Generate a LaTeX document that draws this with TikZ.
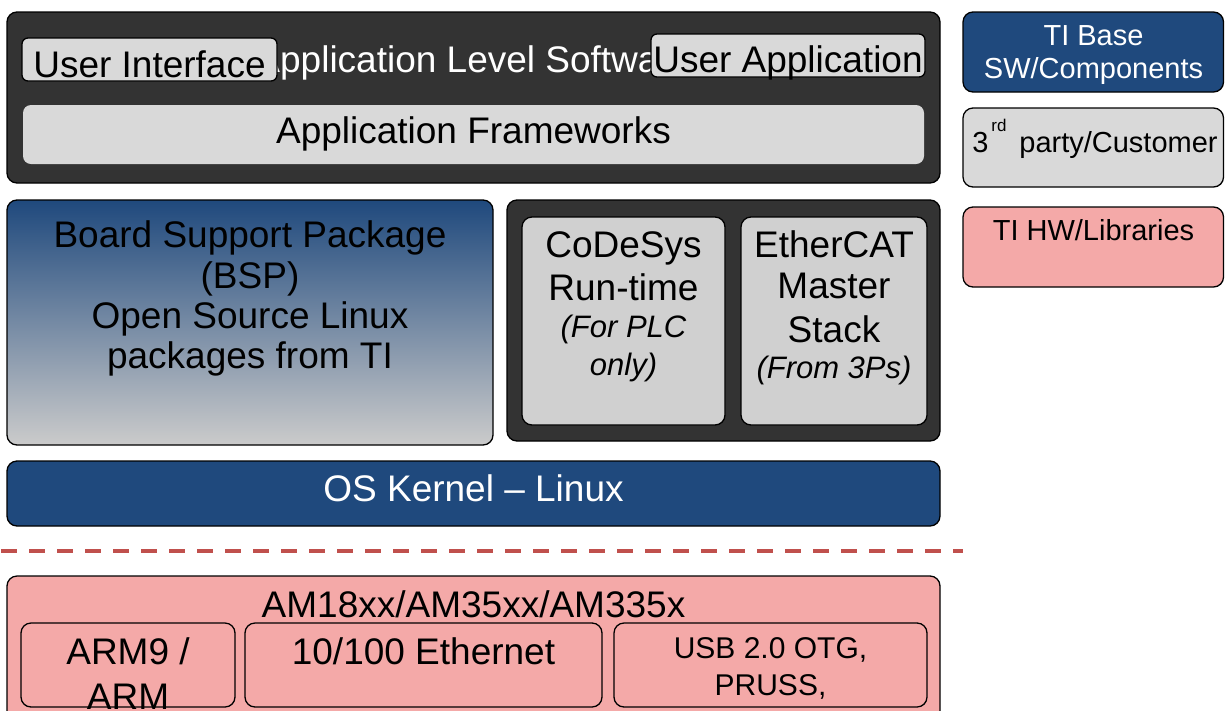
\documentclass[tikz,border=0pt]{standalone}
\usepackage{fontspec}
\setmainfont{Liberation Sans}
\definecolor{tiblue}{HTML}{1F497D}
\definecolor{darkbox}{HTML}{333333}
\definecolor{lightbox}{HTML}{D9D9D9}
\definecolor{midbox}{HTML}{D0D0D0}
\definecolor{pinkbox}{HTML}{F4A9A8}
\definecolor{dashred}{HTML}{C0504D}
\definecolor{bspmid}{HTML}{8B95A9}
\definecolor{bspbot}{HTML}{CBCBCB}
\tikzset{
  box/.style={draw=black, line width=1.3pt, rounded corners=10pt, inner sep=0pt, outer sep=0pt, anchor=north west},
  smallbox/.style={box, rounded corners=6pt},
  big/.style={font=\fontsize{37}{41}\selectfont},
  small/.style={font=\fontsize{29}{33}\selectfont},
  ital/.style={font=\fontsize{31}{35}\selectfont\itshape},
  txt/.style={anchor=base, inner sep=0pt, outer sep=0pt},
}
\begin{document}
\begin{tikzpicture}[x=1pt,y=-1pt]
\useasboundingbox (0,0) rectangle (1225,710);
\clip (0,0) rectangle (1225,710);
% application level
\node[box, fill=darkbox, minimum width=933pt, minimum height=171pt] (app) at (7,12) {};
\node[txt, big, text=white] (apptitle) at (473.5,72) {Application Level Software};
\node[smallbox, fill=lightbox, minimum width=255pt, minimum height=43pt] (ui) at (22,38) {};
\node[txt, big] (uit) at (149.5,77) {User Interface};
\node[smallbox, fill=lightbox, minimum width=274pt, minimum height=43pt] (ua) at (651,34) {};
\node[txt, big] (uat) at (788,72) {User Application};
\node[box, draw=none, rounded corners=8pt, fill=lightbox, minimum width=901pt, minimum height=59pt] (af) at (23,105) {};
\node[txt, big] (aft) at (473.5,143) {Application Frameworks};
% legend
\node[box, fill=tiblue, minimum width=260.5pt, minimum height=80pt] (lg1) at (963,12) {};
\node[txt, small, text=white] (lg1a) at (1093.5,45) {TI Base};
\node[txt, small, text=white] (lg1b) at (1093.5,78) {SW/Components};
\node[box, fill=lightbox, minimum width=260.5pt, minimum height=79pt] (lg2) at (963,108) {};
\node[txt, small] (lg2t) at (1095,152) {3\raisebox{21pt}{\fontsize{17}{17}\selectfont\,rd}\, party/Customer};
\node[box, fill=pinkbox, minimum width=260.5pt, minimum height=80pt] (lg3) at (963,207) {};
\node[txt, small] (lg3t) at (1093.5,240) {TI HW/Libraries};
% BSP
\node[box, top color=tiblue, middle color=bspmid, bottom color=bspbot, minimum width=486pt, minimum height=245pt] (bsp) at (7,200) {};
\node[txt, big] (bsp1) at (250,247) {Board Support Package};
\node[txt, big] (bsp2) at (250,288) {(BSP)};
\node[txt, big] (bsp3) at (250,328) {Open Source Linux};
\node[txt, big] (bsp4) at (250,368) {packages from TI};
% runtime group
\node[box, fill=darkbox, minimum width=433pt, minimum height=241pt] (grp) at (507,200) {};
\node[box, fill=midbox, minimum width=203pt, minimum height=208pt] (cds) at (522,217) {};
\node[txt, big] (cds1) at (623.5,257) {CoDeSys};
\node[txt, big] (cds2) at (623.5,300) {Run-time};
\node[txt, ital] (cds3) at (623.5,337) {(For PLC};
\node[txt, ital] (cds4) at (623.5,375) {only)};
\node[box, fill=midbox, minimum width=186pt, minimum height=208pt] (ecat) at (741,217) {};
\node[txt, big] (ecat1) at (834,257) {EtherCAT};
\node[txt, big] (ecat2) at (834,298) {Master};
\node[txt, big] (ecat3) at (834,342) {Stack};
\node[txt, ital] (ecat4) at (834,378) {(From 3Ps)};
% OS kernel
\node[box, fill=tiblue, minimum width=933pt, minimum height=65pt] (os) at (7,461) {};
\node[txt, big, text=white] (ost) at (473.5,501) {OS Kernel -- Linux};
% dashed separator
\coordinate (dl) at (1,551);
\coordinate (dr) at (963,551);
\draw[dashred, line width=4pt, dash pattern=on 16pt off 12pt] (dl) -- (dr);
% hardware
\node[box, fill=pinkbox, minimum width=933pt, minimum height=184pt] (am) at (7,576) {};
\node[txt, big] (amt) at (473.5,617) {AM18xx/AM35xx/AM335x};
\node[box, fill=pinkbox, minimum width=214pt, minimum height=84pt] (arm) at (21,623) {};
\node[txt, big] (arm1) at (128,664) {ARM9 /};
\node[txt, big] (arm2) at (128,709) {ARM};
\node[box, fill=pinkbox, minimum width=357pt, minimum height=84pt] (eth) at (245,623) {};
\node[txt, big] (etht) at (423.5,664) {10/100 Ethernet};
\node[box, fill=pinkbox, minimum width=313pt, minimum height=84pt] (usb) at (614,623) {};
\node[txt, font=\fontsize{30}{34}\selectfont] (usb1) at (770.5,658) {USB 2.0 OTG,};
\node[txt, font=\fontsize{30}{34}\selectfont] (usb2) at (770.5,695) {PRUSS,};
\end{tikzpicture}
\end{document}
